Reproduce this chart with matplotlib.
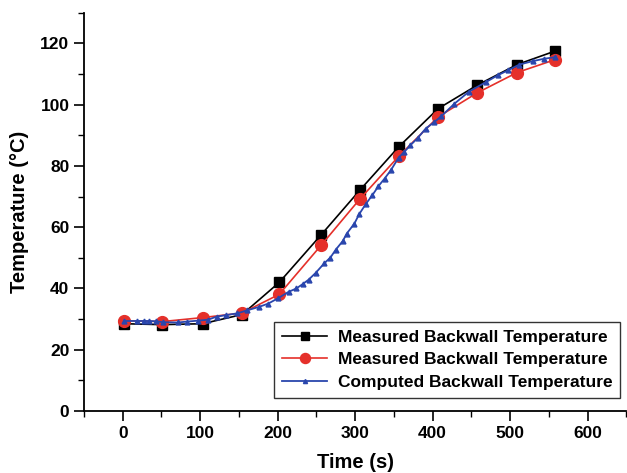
import matplotlib
matplotlib.use("Agg")
import matplotlib.pyplot as plt
from matplotlib.ticker import MultipleLocator

plt.rcParams['font.family'] = ['Liberation Sans', 'DejaVu Sans']
plt.rcParams['font.weight'] = 'bold'

# Measured series 1 (black squares)
t_meas1 = [2, 51, 103, 154, 202, 256, 306, 356, 407, 457, 509, 558]
v_meas1 = [28.5, 28.2, 28.5, 31.5, 42.0, 57.5, 72.1, 86.2, 98.7, 106.3, 113.1, 117.5]

# Measured series 2 (red circles)
t_meas2 = [2, 51, 103, 154, 202, 256, 306, 356, 407, 457, 509, 558]
v_meas2 = [29.5, 29.2, 30.5, 32.0, 38.1, 54.1, 69.2, 83.1, 96.0, 103.8, 110.5, 114.7]

# Computed series (blue triangles)
t_comp = [2, 19, 27, 34, 43, 52, 71, 83, 97, 110, 121, 133, 148, 161, 176, 188,
          201, 214, 224, 232, 240, 249, 260, 268, 275, 284, 289, 299, 305, 314,
          322, 330, 338, 346, 356, 363, 371, 381, 391, 402, 411, 428, 447, 469,
          484, 497, 512, 529, 544, 558]
v_comp = [29.4, 29.4, 29.4, 29.4, 29.3, 29.0, 28.9, 29.2, 29.5, 29.8, 30.8, 31.3,
          31.9, 32.9, 34.0, 35.1, 36.9, 38.9, 40.0, 41.4, 42.9, 45.1, 48.2, 50.1,
          52.7, 55.5, 57.9, 61.2, 64.2, 67.7, 70.4, 73.4, 75.9, 78.6, 82.7, 84.5,
          86.7, 89.2, 92.2, 94.3, 96.2, 100.3, 104.3, 107.4, 109.6, 111.2, 113.1,
          114.2, 115.0, 115.5]

labels = ['Measured Backwall Temperature', 'Measured Backwall Temperature',
          'Computed Backwall Temperature']

fig = plt.figure(figsize=(6.27, 4.73), dpi=100)
ax = fig.add_axes([0.134, 0.131, 0.865, 0.842])

ax.plot(t_meas1, v_meas1, color='black', lw=1.2, marker='s', ms=7.5,
        label=labels[0], zorder=3)
ax.plot(t_meas2, v_meas2, color='#e5302a', lw=1.2, marker='o', ms=8.5,
        label=labels[1], zorder=4)
ax.plot(t_comp, v_comp, color='#2a46ad', lw=1.3, marker='^', ms=3.5,
        label=labels[2], zorder=5)

ax.set_xlim(-50, 650)
ax.set_ylim(0, 130)
ax.xaxis.set_major_locator(MultipleLocator(100))
ax.xaxis.set_minor_locator(MultipleLocator(50))
ax.yaxis.set_major_locator(MultipleLocator(20))
ax.yaxis.set_minor_locator(MultipleLocator(10))

for s in ['top', 'right']:
    ax.spines[s].set_visible(False)
for s in ['left', 'bottom']:
    ax.spines[s].set_linewidth(1.3)

ax.tick_params(which='major', direction='out', length=7, width=1.2, labelsize=12.5)
ax.tick_params(which='minor', direction='out', length=4, width=1.0)
for lab in ax.get_xticklabels() + ax.get_yticklabels():
    lab.set_fontweight('bold')

ax.set_xlabel('Time (s)', fontsize=14.5, fontweight='bold', labelpad=9)
ax.set_ylabel('Temperature (\u00b0C)', fontsize=14.5, fontweight='bold', labelpad=8)

leg = ax.legend(loc='lower right', bbox_to_anchor=(0.995, 0.025), fontsize=12.5,
                frameon=True, fancybox=False, edgecolor='black',
                handlelength=2.6, borderpad=0.45, labelspacing=0.42,
                handletextpad=0.6, borderaxespad=0.2, markerscale=0.85)
leg.get_frame().set_linewidth(1.0)
for txt in leg.get_texts():
    txt.set_fontweight('bold')

fig.savefig('out.png', dpi=100)
